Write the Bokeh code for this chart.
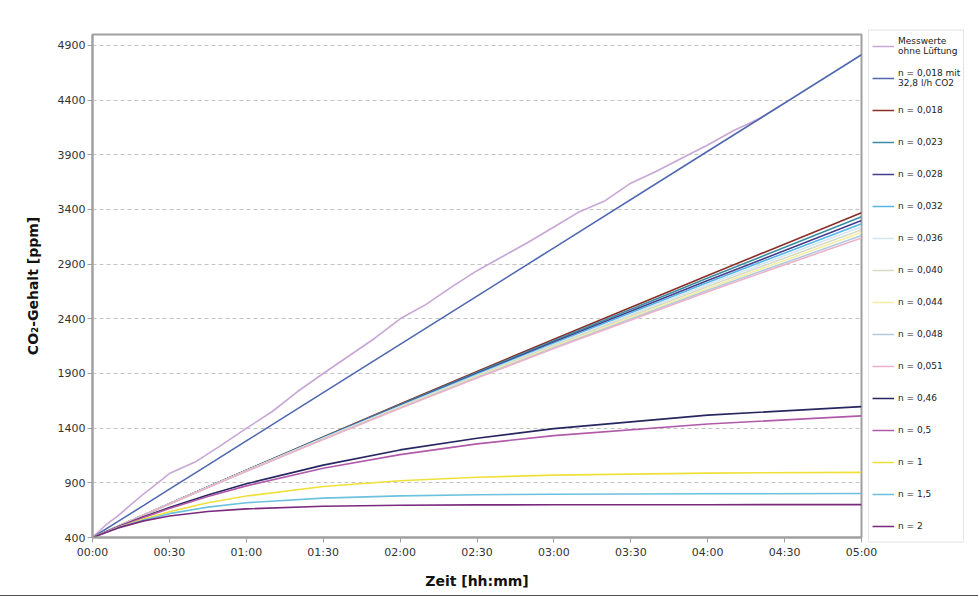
from bokeh.plotting import figure
from bokeh.models import FixedTicker, Legend, LegendItem, Range1d
from bokeh.embed import file_html
from bokeh.resources import INLINE

# ---------------- data (minutes since start, CO2 in ppm) ----------------
t_meas = [0, 5, 10, 15, 20, 25, 30, 40, 50, 60, 70, 80, 90, 100, 110, 120, 130, 140,
          150, 160, 170, 180, 190, 200, 210, 220, 230, 240, 250, 260, 268]
messwerte = [400, 510, 600, 700, 800, 890, 985, 1090, 1240, 1398, 1550, 1735, 1900, 2060,
             2220, 2400, 2530, 2690, 2840, 2970, 3100, 3240, 3380, 3480, 3640, 3750, 3870,
             3990, 4120, 4230, 4345]

t_model = [0, 10, 20, 30, 45, 60, 90, 120, 150, 180, 240, 300]
n0018_mit = [400, 547, 694, 842, 1062, 1283, 1725, 2166, 2608, 3049, 3932, 4815]
n0018 = [400, 503, 606, 709, 863, 1015, 1319, 1620, 1918, 2214, 2797, 3370]
n0023 = [400, 503, 606, 709, 862, 1014, 1316, 1614, 1909, 2200, 2774, 3333]
n0028 = [400, 503, 606, 708, 861, 1012, 1312, 1608, 1899, 2187, 2750, 3298]
n0032 = [400, 503, 606, 708, 860, 1011, 1310, 1603, 1892, 2176, 2732, 3270]
n0036 = [400, 503, 606, 708, 860, 1010, 1307, 1598, 1885, 2166, 2714, 3242]
n0040 = [400, 503, 606, 707, 859, 1009, 1304, 1594, 1878, 2156, 2696, 3214]
n0044 = [400, 503, 605, 707, 858, 1008, 1301, 1589, 1870, 2145, 2678, 3189]
n0048 = [400, 503, 605, 707, 857, 1006, 1299, 1584, 1863, 2135, 2661, 3162]
n0051 = [400, 503, 605, 707, 857, 1005, 1297, 1581, 1858, 2128, 2648, 3140]
n046 = [400, 498, 589, 674, 788, 891, 1062, 1201, 1308, 1396, 1519, 1597]
n05 = [400, 496, 584, 665, 775, 872, 1034, 1158, 1256, 1332, 1438, 1512]
n1 = [400, 492, 570, 636, 717, 779, 866, 919, 951, 970, 989, 996]
n15 = [400, 490, 560, 618, 678, 718, 760, 781, 791, 796, 800, 802]
n2 = [400, 488, 552, 597, 638, 662, 686, 695, 698, 699, 700, 701]

series_labels = ["Messwerte\nohne Lüftung", "n = 0,018 mit\n32,8 l/h CO2", "n = 0,018",
                 "n = 0,023", "n = 0,028", "n = 0,032", "n = 0,036", "n = 0,040",
                 "n = 0,044", "n = 0,048", "n = 0,051", "n = 0,46", "n = 0,5",
                 "n = 1", "n = 1,5", "n = 2"]
series_colors = ["#c8a6d6", "#4f68b0", "#8a2e28", "#3a8ca2", "#463e8c", "#56b6e6",
                 "#d2e6f2", "#d8dac6", "#f2eea4", "#b2cadf", "#ecb2ca", "#262660",
                 "#b25aaa", "#f0e03a", "#6cc2de", "#7a2a7e"]

y_ticks = [400, 900, 1400, 1900, 2400, 2900, 3400, 3900, 4400, 4900]
x_ticks = [0, 30, 60, 90, 120, 150, 180, 210, 240, 270, 300]
x_tick_labels = ["00:00", "00:30", "01:00", "01:30", "02:00", "02:30", "03:00",
                 "03:30", "04:00", "04:30", "05:00"]

# ---------------- figure ----------------
p = figure(frame_width=769, frame_height=503, output_backend="svg", toolbar_location=None,
           x_range=Range1d(0, 300), y_range=Range1d(400, 5000),
           min_border_left=92, min_border_top=34, min_border_right=0,
           min_border_bottom=58)
p.styles = {"outline": "1px solid #505050"}
p.background_fill_color = "white"
p.border_fill_color = "white"
p.outline_line_color = "#a0a0a0"
p.outline_line_width = 2

all_x = [t_meas] + [t_model] * 15
all_y = [messwerte, n0018_mit, n0018, n0023, n0028, n0032, n0036, n0040, n0044,
         n0048, n0051, n046, n05, n1, n15, n2]

items = []
for xs, ys, lab, col in zip(all_x, all_y, series_labels, series_colors):
    r = p.line(xs, ys, line_color=col, line_width=1.6)
    items.append(LegendItem(label=lab, renderers=[r]))

# axes
p.xaxis.ticker = FixedTicker(ticks=x_ticks)
p.xaxis.major_label_overrides = {t: s for t, s in zip(x_ticks, x_tick_labels)}
p.yaxis.ticker = FixedTicker(ticks=y_ticks)
for ax in (p.xaxis, p.yaxis):
    ax.axis_line_color = "#a0a0a0"
    ax.axis_line_width = 2
    ax.major_tick_line_color = "#a0a0a0"
    ax.major_tick_out = 5
    ax.major_tick_in = 0
    ax.minor_tick_line_color = None
    ax.major_label_text_font = "DejaVu Sans"
    ax.major_label_text_font_size = "11px"
    ax.major_label_text_color = "#333333"
    ax.axis_label_text_font = "DejaVu Sans"
    ax.axis_label_text_font_style = "bold"
    ax.axis_label_text_font_size = "14px"
    ax.axis_label_text_color = "#111111"

p.xaxis.axis_label = "Zeit [hh:mm]"
p.yaxis.axis_label = "CO\u2082-Gehalt [ppm]"
p.xaxis.major_label_standoff = 3
p.xaxis.axis_label_standoff = 11
p.yaxis.major_label_standoff = 2
p.yaxis.axis_label_standoff = 14

p.xgrid.grid_line_color = None
p.ygrid.grid_line_color = "#c4c4c4"
p.ygrid.grid_line_dash = "4 3"
p.ygrid.grid_line_width = 1

legend = Legend(items=items, location="center_left")
legend.label_text_font = "DejaVu Sans"
legend.label_text_font_size = "9px"
legend.label_text_color = "#222222"
legend.label_text_line_height = 1.3
legend.glyph_width = 22
legend.glyph_height = 25
legend.label_height = 25
legend.label_standoff = 4
legend.spacing = 7
legend.padding = 3
legend.margin = 7
legend.border_line_color = "#c8c8c8"
legend.border_line_width = 1
legend.background_fill_color = "white"
legend.background_fill_alpha = 1.0
p.add_layout(legend, "right")

open("out.html", "w").write(file_html(p, INLINE))
